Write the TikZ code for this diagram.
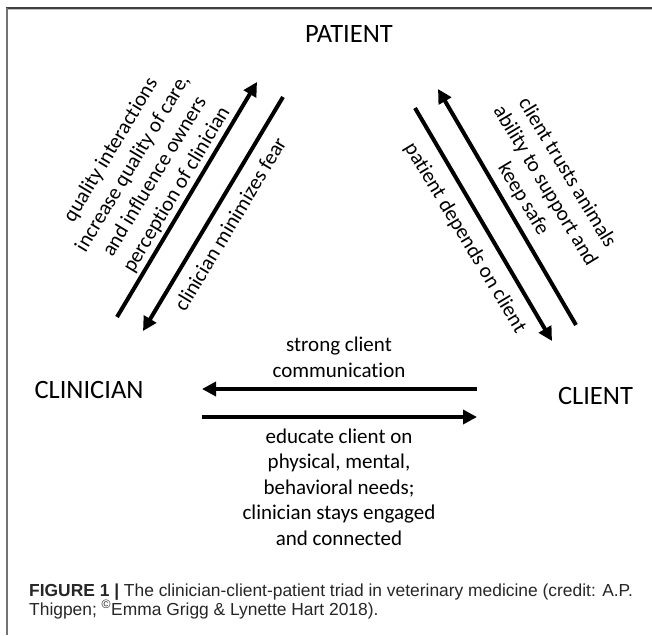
\documentclass[tikz,border=0pt]{standalone}
\usepackage{fontspec}
\setmainfont{Carlito}[Ligatures=NoCommon]
\newfontfamily\capfont{Liberation Sans}
\usetikzlibrary{arrows.meta}
\begin{document}
\begin{tikzpicture}[x=1pt,y=-1pt,
  lbl/.style={inner sep=0pt, font=\fontsize{26.5}{32}\selectfont},
  txt/.style={inner sep=0pt, align=center, font=\fontsize{21}{25.6}\selectfont},
  arr/.style={line width=4pt, -{Triangle[length=14pt,width=14pt]}},
  captxt/.style={inner sep=0pt, anchor=base west, font=\capfont\fontsize{17.4}{20}\selectfont, text=black!85},
  frame/.style={line width=1.6pt}
]
\useasboundingbox (0,0) rectangle (652,635);
% frame
\draw[frame, black!75] (6.2,8) -- (652,8);
\draw[line width=0.8pt, black!25] (7,9.8) -- (652,9.8);
\draw[frame, black!55] (7,7.5) -- (7,635);

% main labels
\node[lbl] (patient) at (349,34) {PATIENT};
\node[lbl] (clinician) at (89,390) {CLINICIAN};
\node[lbl] (client) at (595.5,396) {CLIENT};

% arrow end points
\coordinate (L1s) at (117,317); \coordinate (L1e) at (257,82);
\coordinate (L2s) at (283,97);  \coordinate (L2e) at (143,331);
\coordinate (R1s) at (576,325); \coordinate (R1e) at (438,89);
\coordinate (R2s) at (415,108); \coordinate (R2e) at (552,341);
\coordinate (H1s) at (477,389); \coordinate (H1e) at (202,389);
\coordinate (H2s) at (202,417); \coordinate (H2e) at (477,417);

\draw[arr] (L1s) -- (L1e);
\draw[arr] (L2s) -- (L2e);
\draw[arr] (R1s) -- (R1e);
\draw[arr] (R2s) -- (R2e);
\draw[arr] (H1s) -- (H1e);
\draw[arr] (H2s) -- (H2e);

% arrow texts
\node[txt, rotate=59] (t1) at (144,170) {quality interactions\\increase quality of care,\\and influence owners\\perception of clinician};
\node[txt, rotate=59] (t2) at (230,224) {clinician minimizes fear};
\node[txt, rotate=-59] (t3) at (545,186) {client trusts animals\\ability to support and\\keep safe};
\node[txt, rotate=-59] (t4) at (465,238) {patient depends on client};
\node[txt] (t5) at (339,357) {strong client\\communication};
\node[txt] (t6) at (339,487) {educate client on\\physical, mental,\\behavioral needs;\\clinician stays engaged\\and connected};

% caption
\node[captxt] (cap1) at (29,596) {\textbf{FIGURE 1 |} The clinician-client-patient triad in veterinary medicine (credit: A.P.};
\node[captxt] (cap2) at (29,615) {Thigpen; \textsuperscript{\textcopyright}Emma Grigg \& Lynette Hart 2018).};
\end{tikzpicture}
\end{document}
